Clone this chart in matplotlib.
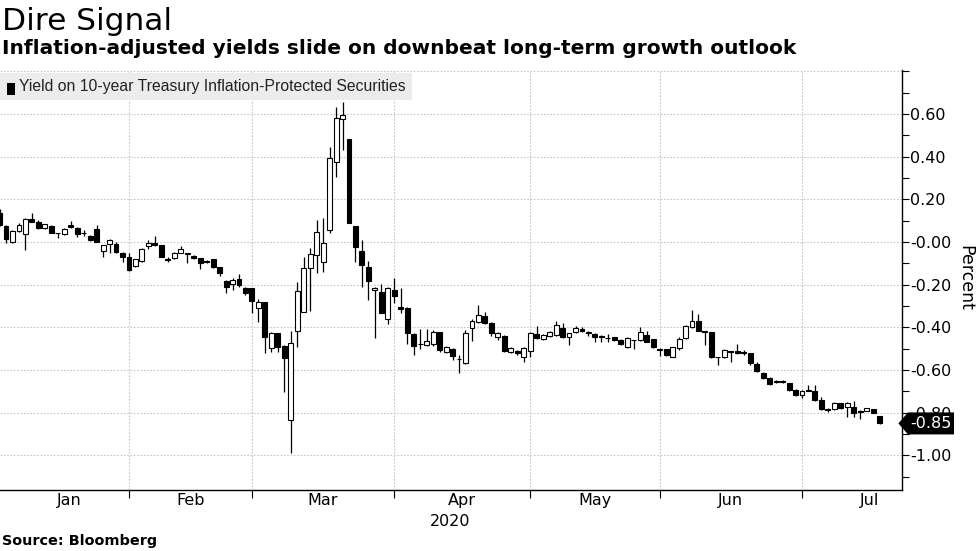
import numpy as np
import matplotlib.pyplot as plt
from matplotlib.patches import Rectangle, Polygon
import matplotlib.transforms as mtransforms

plt.rcParams['axes.unicode_minus'] = False

# trading-day index, 0 = 2 Jan 2020 (first candle on the chart is 3 Jan)
day = np.arange(1, 138)

opens = [0.136, 0.076, 0.001, 0.053, 0.037, 0.108, 0.094, 0.065, 0.075, 0.043,
         0.037, 0.080, 0.067, 0.042, 0.030, 0.061, -0.041, -0.009, -0.009, -0.050,
         -0.069, -0.111, -0.089, -0.019, -0.006, -0.014, -0.081, -0.076, -0.050, -0.053,
         -0.066, -0.076, -0.092, -0.080, -0.118, -0.181, -0.198, -0.175, -0.217, -0.217,
         -0.310, -0.281, -0.498, -0.428, -0.486, -0.834, -0.415, -0.326, -0.123, -0.061,
         -0.092, 0.058, 0.376, 0.578, 0.481, 0.075, -0.041, -0.118, -0.224, -0.236,
         -0.360, -0.225, -0.304, -0.307, -0.430, -0.479, -0.482, -0.479, -0.423, -0.514,
         -0.501, -0.549, -0.565, -0.404, -0.373, -0.347, -0.378, -0.443, -0.440, -0.514,
         -0.509, -0.537, -0.510, -0.431, -0.454, -0.439, -0.436, -0.404, -0.447, -0.420,
         -0.409, -0.420, -0.431, -0.440, -0.450, -0.447, -0.459, -0.490, -0.460, -0.459,
         -0.436, -0.456, -0.503, -0.503, -0.537, -0.498, -0.451, -0.400, -0.369, -0.420,
         -0.423, -0.540, -0.540, -0.514, -0.509, -0.518, -0.521, -0.571, -0.612, -0.636,
         -0.654, -0.654, -0.662, -0.693, -0.717, -0.696, -0.698, -0.740, -0.784, -0.784,
         -0.756, -0.775, -0.775, -0.795, -0.790, -0.784, -0.815]

highs = [0.155, 0.080, 0.056, 0.089, 0.112, 0.137, 0.103, 0.086, 0.080, 0.044,
         0.064, 0.097, 0.070, 0.056, 0.032, 0.080, -0.012, 0.012, 0.000, -0.047,
         -0.050, -0.078, -0.030, 0.009, 0.030, -0.012, -0.070, -0.048, -0.020, -0.052,
         -0.062, -0.074, -0.085, -0.078, -0.116, -0.178, -0.170, -0.150, -0.212, -0.215,
         -0.265, -0.279, -0.420, -0.425, -0.484, -0.415, -0.186, -0.069, -0.027, 0.103,
         0.111, 0.445, 0.632, 0.658, 0.481, 0.077, 0.009, -0.090, -0.210, -0.198,
         -0.212, -0.167, -0.214, -0.305, -0.428, -0.409, -0.409, -0.410, -0.420, -0.485,
         -0.498, -0.530, -0.410, -0.360, -0.295, -0.328, -0.375, -0.420, -0.438, -0.490,
         -0.505, -0.490, -0.420, -0.393, -0.430, -0.415, -0.370, -0.380, -0.425, -0.395,
         -0.400, -0.418, -0.428, -0.436, -0.430, -0.445, -0.456, -0.445, -0.458, -0.400,
         -0.415, -0.454, -0.498, -0.500, -0.490, -0.445, -0.388, -0.318, -0.338, -0.418,
         -0.420, -0.538, -0.503, -0.510, -0.480, -0.505, -0.518, -0.560, -0.610, -0.634,
         -0.645, -0.645, -0.660, -0.690, -0.695, -0.672, -0.672, -0.725, -0.780, -0.750,
         -0.753, -0.750, -0.745, -0.785, -0.778, -0.782, -0.813]

lows = [0.075, -0.005, -0.005, 0.045, -0.037, 0.092, 0.061, 0.060, 0.040, 0.019,
        0.034, 0.068, 0.025, 0.030, 0.005, -0.002, -0.069, -0.050, -0.050, -0.092,
        -0.135, -0.115, -0.092, -0.033, -0.020, -0.072, -0.095, -0.078, -0.052, -0.097,
        -0.078, -0.128, -0.097, -0.120, -0.159, -0.237, -0.225, -0.210, -0.250, -0.334,
        -0.373, -0.518, -0.515, -0.515, -0.701, -0.990, -0.493, -0.326, -0.323, -0.147,
        -0.139, 0.040, 0.306, 0.431, 0.088, -0.092, -0.209, -0.272, -0.451, -0.334,
        -0.386, -0.287, -0.334, -0.479, -0.529, -0.500, -0.486, -0.485, -0.515, -0.520,
        -0.553, -0.615, -0.570, -0.462, -0.380, -0.385, -0.440, -0.460, -0.515, -0.520,
        -0.530, -0.560, -0.537, -0.455, -0.460, -0.443, -0.440, -0.452, -0.482, -0.425,
        -0.420, -0.440, -0.470, -0.468, -0.470, -0.465, -0.482, -0.495, -0.500, -0.462,
        -0.470, -0.495, -0.535, -0.535, -0.540, -0.505, -0.455, -0.402, -0.418, -0.482,
        -0.545, -0.576, -0.545, -0.560, -0.525, -0.530, -0.575, -0.608, -0.642, -0.668,
        -0.662, -0.662, -0.696, -0.720, -0.730, -0.700, -0.745, -0.788, -0.795, -0.788,
        -0.782, -0.818, -0.820, -0.830, -0.792, -0.803, -0.852]

closes = [0.080, 0.014, 0.053, 0.080, 0.109, 0.095, 0.067, 0.084, 0.042, 0.042,
          0.061, 0.072, 0.037, 0.040, 0.009, 0.001, -0.014, 0.009, -0.047, -0.072,
          -0.131, -0.080, -0.034, -0.003, -0.016, -0.069, -0.082, -0.050, -0.034, -0.054,
          -0.076, -0.100, -0.093, -0.116, -0.147, -0.209, -0.180, -0.203, -0.237, -0.275,
          -0.281, -0.443, -0.425, -0.490, -0.545, -0.472, -0.228, -0.123, -0.058, 0.048,
          -0.006, 0.395, 0.579, 0.593, 0.088, -0.023, -0.106, -0.185, -0.214, -0.332,
          -0.215, -0.251, -0.313, -0.428, -0.486, -0.480, -0.464, -0.420, -0.506, -0.490,
          -0.532, -0.550, -0.428, -0.369, -0.342, -0.378, -0.428, -0.428, -0.509, -0.495,
          -0.521, -0.495, -0.425, -0.451, -0.436, -0.420, -0.389, -0.447, -0.428, -0.404,
          -0.415, -0.428, -0.447, -0.446, -0.451, -0.459, -0.478, -0.451, -0.461, -0.420,
          -0.467, -0.490, -0.504, -0.529, -0.493, -0.456, -0.393, -0.369, -0.415, -0.421,
          -0.540, -0.541, -0.506, -0.515, -0.521, -0.519, -0.568, -0.604, -0.638, -0.665,
          -0.655, -0.655, -0.693, -0.717, -0.698, -0.697, -0.740, -0.784, -0.785, -0.753,
          -0.779, -0.756, -0.800, -0.796, -0.780, -0.800, -0.850]

# first trading day of Feb..Jul
month_start = [21, 40, 62, 83, 103, 125]
month_names = ['Jan', 'Feb', 'Mar', 'Apr', 'May', 'Jun', 'Jul']
last_value = -0.85

o = np.array(opens)
h = np.array(highs)
l = np.array(lows)
c = np.array(closes)

narrow = ['Liberation Sans Narrow', 'DejaVu Sans']

fig = plt.figure(figsize=(9.8, 5.51), dpi=100)
ax = fig.add_axes([0, 61/551, 902/980, 420/551])

# wicks then bodies
ax.vlines(day, l, h, color='black', linewidth=0.9, zorder=3)
up = c >= o
bottom = np.minimum(o, c)
height = np.maximum(np.abs(c - o), 0.002)
ax.bar(day[up], height[up], bottom=bottom[up], width=0.76,
       color='white', edgecolor='black', linewidth=0.8, zorder=4)
ax.bar(day[~up], height[~up], bottom=bottom[~up], width=0.76,
       color='black', edgecolor='black', linewidth=0.8, zorder=4)

ax.set_xlim(1.07, 140.45)
ax.set_ylim(-1.162, 0.806)

for s in ['left', 'top']:
    ax.spines[s].set_visible(False)
ax.spines['right'].set_linewidth(1.0)
ax.spines['bottom'].set_linewidth(1.0)

ax.yaxis.tick_right()
yt = np.round(np.arange(-1.0, 0.81, 0.2), 2)
ax.set_yticks(yt)
ax.set_yticklabels(['%.2f' % v if v < 0.7 else '' for v in yt])
ax.set_yticks(np.round(np.arange(-1.1, 0.8, 0.2), 2), minor=True)
ax.tick_params(axis='y', which='both', direction='out', length=5, width=0.8,
               pad=1, labelsize=11.5, right=True, left=False)

ax.set_xticks(month_start)
ax.set_xticklabels([''] * len(month_start))
label_pos = [11.7] + [(a + b) / 2 for a, b in zip(month_start[:-1], month_start[1:])] + [135.4]
ax.set_xticks(label_pos, minor=True)
ax.set_xticklabels(month_names, minor=True)
ax.tick_params(axis='x', which='major', direction='out', length=6, width=0.8)
ax.tick_params(axis='x', which='minor', length=0, pad=2, labelsize=11.5)

for lab in ax.get_xticklabels(minor=True) + ax.get_yticklabels():
    lab.set_fontfamily(narrow)

ax.grid(True, which='major', axis='both', color='#c8c8c8', linestyle=(0, (1.5, 1.5)),
        linewidth=0.8, zorder=0)
ax.set_axisbelow(True)

ax.text(70.6, -1.311, '2020', ha='center', va='center', fontsize=11.5,
        family=narrow, clip_on=False)

# legend strip
ax.add_patch(Rectangle((0, 0.929), 412/902, 0.064, transform=ax.transAxes,
                       facecolor='#ececec', edgecolor='none', zorder=6))
ax.add_patch(Rectangle((7/902, 0.94), 8/902, 0.028, transform=ax.transAxes,
                       facecolor='black', edgecolor='none', zorder=7))
ax.text(19/902, 0.960, 'Yield on 10-year Treasury Inflation-Protected Securities',
        transform=ax.transAxes, ha='left', va='center', fontsize=11.3,
        family='Liberation Sans', color='#222222', zorder=7)

# last value tag
trans = mtransforms.blended_transform_factory(ax.transAxes, ax.transData)
hh = 11 / 213.5
px = 1 / 902
tag = Polygon([(0.996, last_value), (1 + 6 * px, last_value + hh),
               (1 + 52 * px, last_value + hh), (1 + 52 * px, last_value - hh),
               (1 + 6 * px, last_value - hh)], closed=True, transform=trans,
              facecolor='black', edgecolor='none', clip_on=False, zorder=8)
ax.add_patch(tag)
ax.text(1 + 29 * px, last_value, '%.2f' % last_value, transform=trans, ha='center',
        va='center', color='white', fontsize=11.5, family=narrow,
        clip_on=False, zorder=9)

fig.text(965/980, 1 - 278/551, 'Percent', rotation=270, ha='center', va='center',
         fontsize=12.5, family='DejaVu Sans')

fig.text(0.002, 1 - 30/551, 'Dire Signal', fontsize=22.5, ha='left', va='baseline',
         family='DejaVu Sans')
fig.text(0.002, 1 - 54/551, 'Inflation-adjusted yields slide on downbeat long-term growth outlook',
         fontsize=14.5, fontweight='bold', ha='left', va='baseline', family='DejaVu Sans')
fig.text(0.002, 1 - 545/551, 'Source: Bloomberg', fontsize=10.4, fontweight='bold',
         ha='left', va='baseline', family='DejaVu Sans')

fig.savefig('out.png', dpi=100)
